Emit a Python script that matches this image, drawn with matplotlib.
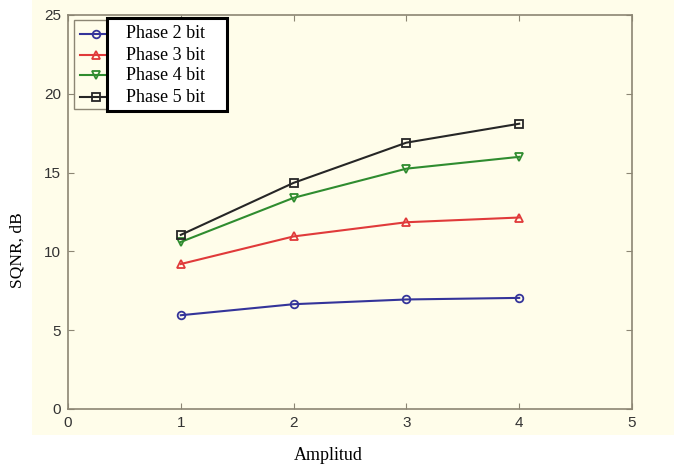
import matplotlib
matplotlib.use("Agg")
import matplotlib.pyplot as plt
from matplotlib.patches import Rectangle
from matplotlib.lines import Line2D

amplitud = [1, 2, 3, 4]
phase2 = [5.95, 6.65, 6.95, 7.05]
phase3 = [9.2, 10.95, 11.85, 12.15]
phase4 = [10.6, 13.4, 15.25, 16.0]
phase5 = [11.05, 14.35, 16.9, 18.1]
labels = ["Phase 2 bit", "Phase 3 bit", "Phase 4 bit", "Phase 5 bit"]
xticks = [0, 1, 2, 3, 4, 5]
yticks = [0, 5, 10, 15, 20, 25]

series = [phase2, phase3, phase4, phase5]
colors = ["#34349a", "#e03a3a", "#2f8c2f", "#262626"]
markers = ["o", "^", "v", "s"]

W, H = 674, 470
fig = plt.figure(figsize=(W / 100, H / 100), dpi=100, facecolor="white")
bg = "#fffdea"
fig.patches.append(Rectangle((32 / W, (H - 435) / H), (W - 32) / W, 435 / H,
                             transform=fig.transFigure, facecolor=bg,
                             edgecolor="none", zorder=-10))

ax = fig.add_axes([68 / W, (H - 409) / H, (632 - 68) / W, (409 - 15) / H])
ax.set_facecolor(bg)
for s in ax.spines.values():
    s.set_color("#8c8674")
    s.set_linewidth(1.2)

for ys, c, m in zip(series, colors, markers):
    ax.plot(amplitud, ys, color=c, lw=1.5, marker=m, markersize=5.5,
            markerfacecolor="none", markeredgecolor=c, markeredgewidth=1.3)

ax.set_xlim(0, 5)
ax.set_ylim(0, 25)
ax.set_xticks(xticks)
ax.set_yticks(yticks)
ax.tick_params(direction="in", length=4, color="#8c8674", top=True, right=True,
               labelsize=11, labelcolor="#333333")
for t in ax.get_xticklabels() + ax.get_yticklabels():
    t.set_family(["Liberation Sans", "DejaVu Sans"])
ax.xaxis.set_tick_params(pad=5)
ax.yaxis.set_tick_params(pad=5)

serif = ["Liberation Serif", "DejaVu Serif"]
fig.text(18 / W, (H - 250) / H, "SQNR, dB", rotation=90, ha="center",
         va="center", family=serif, fontsize=12.5)
fig.text(328 / W, (H - 456) / H, "Amplitud", ha="center", va="center",
         family=serif, fontsize=13)

# Legend (gray inner box with line samples)
fig.patches.append(Rectangle((74 / W, (H - 109) / H), (150 - 74) / W, (109 - 20) / H,
                             transform=fig.transFigure, facecolor=bg,
                             edgecolor="#8c8674", lw=1.0, zorder=5))
rows = [34, 55, 75, 97]
for y, c, m in zip(rows, colors, markers):
    fig.add_artist(Line2D([80 / W, 112 / W], [(H - y) / H] * 2, color=c, lw=1.5,
                          marker=None, zorder=6))
    fig.add_artist(Line2D([96 / W], [(H - y) / H], color=c, marker=m,
                          markersize=5.5, markerfacecolor="none",
                          markeredgecolor=c, markeredgewidth=1.3, zorder=6))
fig.patches.append(Rectangle((107 / W, (H - 111) / H), (227 - 107) / W, (111 - 18) / H,
                             transform=fig.transFigure, facecolor="white",
                             edgecolor="black", lw=2.2, zorder=7))
for y, lab in zip(rows, labels):
    fig.text(126 / W, (H - y) / H, lab, ha="left", va="center", family=serif,
             fontsize=13, zorder=8)

fig.savefig("out.png", dpi=100, facecolor="white")
